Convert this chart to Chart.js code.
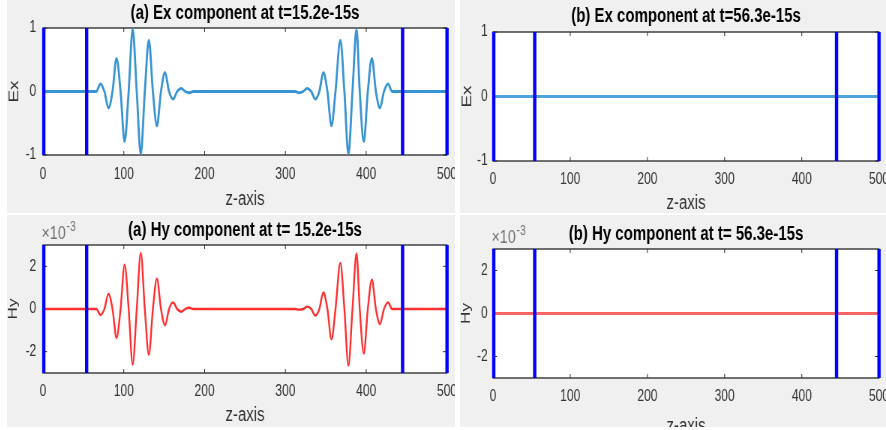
<!DOCTYPE html>
<html><head><meta charset="utf-8">
<script src="https://cdn.jsdelivr.net/npm/chart.js@4.4.1/dist/chart.umd.min.js"></script>
<style>
html,body{margin:0;padding:0;background:#ffffff;width:886px;height:430px;overflow:hidden;}
.panel{position:absolute;background:#f0f0f0;overflow:hidden;}
.inner{position:absolute;left:0;top:0;transform:scaleX(0.75);transform-origin:0 0;}
canvas{display:block;}
</style></head><body>
<div class="panel" style="left:7px;top:0;width:448px;height:213px"><div class="inner"><canvas id="c1" width="600" height="230"></canvas></div></div>
<div class="panel" style="left:7px;top:215px;width:448px;height:212px"><div class="inner"><canvas id="c2" width="600" height="230"></canvas></div></div>
<div class="panel" style="left:460px;top:0;width:426px;height:213px"><div class="inner"><canvas id="c3" width="568" height="230"></canvas></div></div>
<div class="panel" style="left:460px;top:215px;width:426px;height:212px"><div class="inner"><canvas id="c4" width="568" height="230"></canvas></div></div>
<script>
// ---------------- data ----------------
const zTicks = [0, 100, 200, 300, 400, 500];
const exTicks = [-1, 0, 1];
const hyTicks = [-2, 0, 2];            // in units of 1e-3
const pmlBounds = [1, 54, 445, 500];   // blue boundary lines (z)

// (a) t = 15.2e-15 s : two pulses
const zA = [0, 66, 71, 76, 81, 86, 91, 96, 101, 106, 111, 116, 121, 126, 131, 136, 141, 146, 151, 156, 161, 166, 171, 176, 181, 186,
            312, 317, 322, 327, 332, 337, 342, 347, 352, 357, 362, 368, 373, 378, 383, 388, 392, 397, 402, 407, 412, 417, 422, 427, 432, 500];
const exA = [0, 0, 0.12, 0, -0.26, 0, 0.52, 0, -0.79, 0, 0.98, 0, -0.99, 0, 0.81, 0, -0.54, 0, 0.30, 0, -0.12, 0, 0.05, 0, -0.02, 0,
             0, -0.02, 0, 0.05, 0, -0.12, 0, 0.30, 0, -0.54, 0, 0.81, 0, -0.99, 0, 0.98, 0, -0.79, 0, 0.52, 0, -0.26, 0, 0.12, 0, 0];
const hyA = [0, 0, -0.28, 0, 0.71, 0, -1.35, 0, 2.08, 0, -2.6, 0, 2.63, 0, -2.14, 0, 1.42, 0, -0.76, 0, 0.31, 0, -0.13, 0, 0.06, 0,
             0, -0.03, 0, 0.11, 0, -0.31, 0, 0.77, 0, -1.42, 0, 2.16, 0, -2.65, 0, 2.6, 0, -2.09, 0, 1.37, 0, -0.71, 0, 0.31, 0, 0]; // ×1e-3

// (b) t = 56.3e-15 s : fields absorbed
const zB = [0, 500];
const exB = [0, 0];
const hyB = [0, 0];

const titles = ['(a) Ex component at t=15.2e-15s', '(a) Hy component at t= 15.2e-15s',
                '(b) Ex component at t=56.3e-15s', '(b) Hy component at t= 56.3e-15s'];
const xLabel = 'z-axis';
const expLabel = ['\u00d710', '-3'];

// ---------------- drawing ----------------
const FONT = "'Liberation Sans', Arial, Helvetica, sans-serif";
const EX_COLOR = '#3994d3';
const HY_COLOR = '#ff2e2e';
const AXC = '#262626';

const framePlugin = {
  id: 'frame',
  beforeDatasetsDraw(chart) {
    const {ctx, chartArea: a, scales: {x, y}} = chart;
    ctx.save();
    ctx.fillStyle = '#ffffff';
    ctx.fillRect(a.left, a.top, a.right - a.left, a.bottom - a.top);
    ctx.strokeStyle = AXC;
    ctx.lineWidth = 1.3;
    ctx.strokeRect(a.left, a.top, a.right - a.left, a.bottom - a.top);
    ctx.lineWidth = 1;
    ctx.beginPath();
    x.ticks.forEach(t => {
      const px = x.getPixelForValue(t.value);
      ctx.moveTo(px, a.bottom); ctx.lineTo(px, a.bottom - 4);
      ctx.moveTo(px, a.top); ctx.lineTo(px, a.top + 4);
    });
    y.ticks.forEach(t => {
      const py = y.getPixelForValue(t.value);
      ctx.moveTo(a.left, py); ctx.lineTo(a.left + 5.3, py);
      ctx.moveTo(a.right, py); ctx.lineTo(a.right - 5.3, py);
    });
    ctx.stroke();
    ctx.restore();
  },
  afterDraw(chart, args, opts) {
    if (!opts || !opts.exp) return;
    const {ctx, chartArea: a} = chart;
    ctx.save();
    ctx.fillStyle = '#707070';
    ctx.textBaseline = 'middle';
    ctx.textAlign = 'left';
    ctx.font = '19px ' + FONT;
    const x0 = a.left - 2;
    ctx.fillText(expLabel[0], x0, a.top - 11);
    const w = ctx.measureText(expLabel[0]).width;
    ctx.font = '14px ' + FONT;
    ctx.fillText(expLabel[1], x0 + w + 1, a.top - 18);
    ctx.restore();
  }
};

const specs = [
  {id: 'c1', z: zA, v: exA, color: EX_COLOR, yMin: -1, yMax: 1, yTicks: exTicks, yLabel: 'Ex', yLabelSize: 19, title: titles[0],
   tPad: {top: 3, bottom: 5}, H: 75, tickPad: 10, xTitlePad: 21, yW: 48, yPad: 9, padR: 13.333, exp: false, lw: 2.8},
  {id: 'c2', z: zA, v: hyA, color: HY_COLOR, yMin: -3, yMax: 3, yTicks: hyTicks, yLabel: 'Hy', yLabelSize: 17, title: titles[1],
   tPad: {top: 5, bottom: 5}, H: 72, tickPad: 9, xTitlePad: 20, yW: 48, yPad: 9, padR: 13.333, exp: true, lw: 2.4},
  {id: 'c3', z: zB, v: exB, color: '#4ea3dc', yMin: -1, yMax: 1, yTicks: exTicks, yLabel: 'Ex', yLabelSize: 19, title: titles[2],
   tPad: {top: 6, bottom: 6}, H: 69, tickPad: 9, xTitlePad: 17, yW: 44, yPad: 7, padR: 9.333, exp: false, lw: 3},
  {id: 'c4', z: zB, v: hyB, color: '#ff6464', yMin: -3, yMax: 3, yTicks: hyTicks, yLabel: 'Hy', yLabelSize: 17, title: titles[3],
   tPad: {top: 9, bottom: 5}, H: 67, tickPad: 9, xTitlePad: 9, yW: 44, yPad: 7, padR: 9.333, exp: true, lw: 3}
];

specs.forEach(s => {
  const datasets = pmlBounds.map(b => ({
    data: [{x: b, y: s.yMin}, {x: b, y: s.yMax}],
    borderColor: '#0000ff', borderWidth: 4.4, pointRadius: 0, fill: false, clip: false, tension: 0
  }));
  datasets.push({
    data: s.z.map((z, i) => ({x: z, y: s.v[i]})),
    borderColor: s.color, borderWidth: s.lw, pointRadius: 0, fill: false,
    cubicInterpolationMode: 'monotone'
  });
  new Chart(document.getElementById(s.id), {
    type: 'line',
    data: {datasets},
    plugins: [framePlugin],
    options: {
      responsive: false, animation: false, devicePixelRatio: 1,
      layout: {padding: {left: 0, right: s.padR, top: 0, bottom: 0}},
      plugins: {
        legend: {display: false}, tooltip: {enabled: false},
        title: {display: true, text: s.title, fullSize: false, align: 'center', color: '#000',
                font: {family: FONT, size: 20, weight: 'bold', lineHeight: 1}, padding: s.tPad},
        frame: {exp: s.exp}
      },
      scales: {
        x: {
          type: 'linear', min: 0, max: 500,
          grid: {display: false, drawTicks: false}, border: {display: false},
          ticks: {color: '#333', font: {family: FONT, size: 16}, padding: s.tickPad, maxRotation: 0},
          title: {display: true, text: xLabel, color: '#333', font: {family: FONT, size: 20, lineHeight: 1}, padding: {top: 0, bottom: s.xTitlePad}},
          afterBuildTicks: sc => { sc.ticks = zTicks.map(v => ({value: v})); },
          afterFit: sc => { sc.height = s.H; sc.paddingLeft = 0; sc.paddingRight = 0; }
        },
        y: {
          type: 'linear', min: s.yMin, max: s.yMax,
          grid: {display: false, drawTicks: false}, border: {display: false},
          ticks: {color: '#333', font: {family: FONT, size: 16}, padding: s.yPad},
          title: {display: true, text: s.yLabel, color: '#333', font: {family: FONT, size: s.yLabelSize, lineHeight: 1}, padding: {top: 0, bottom: 0}},
          afterBuildTicks: sc => { sc.ticks = s.yTicks.map(v => ({value: v})); },
          afterFit: sc => { sc.width = s.yW; sc.paddingTop = 0; sc.paddingBottom = 0; }
        }
      }
    }
  });
});
</script>
</body></html>
